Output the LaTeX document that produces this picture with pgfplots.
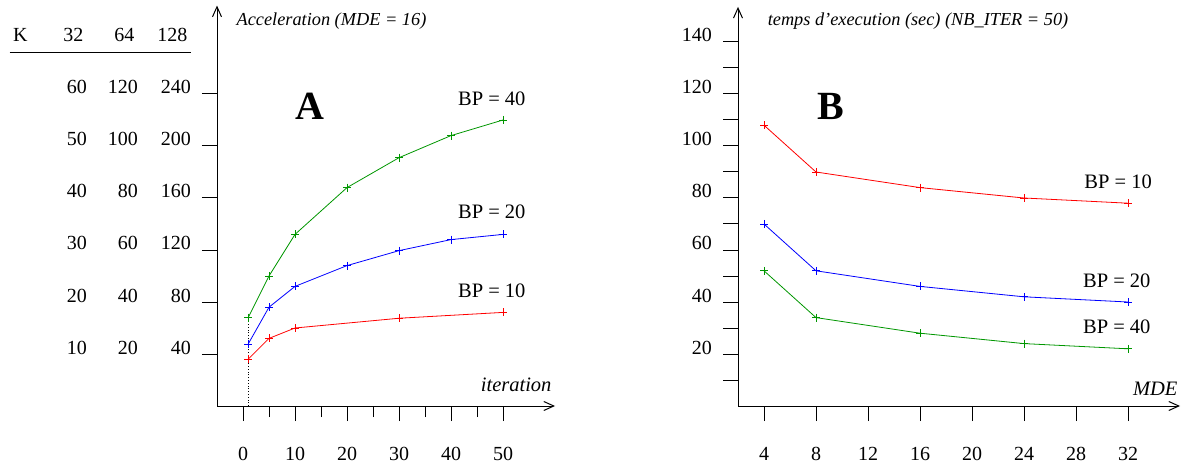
\documentclass[border=0pt]{standalone}
\usepackage{fontspec}
\setmainfont{Liberation Serif}
\usepackage{pgfplots}
\pgfplotsset{compat=1.18}
\usetikzlibrary{arrows.meta}
\definecolor{pgreen}{RGB}{0,150,0}
\newcommand\krow[3]{\makebox[52pt][r]{#1}\makebox[51pt][r]{#2}\makebox[53pt][r]{#3}}
\newcommand\lbl{\fontsize{20}{24}\selectfont}
\newcommand\ttl{\fontsize{18.3}{22}\selectfont\itshape}
\newcommand\axl{\fontsize{20.5}{24}\selectfont\itshape}
\newcommand\bp{\fontsize{20.5}{24}\selectfont}
\newcommand\bigletter{\fontsize{40}{44}\selectfont\bfseries}

\pgfplotsset{
  myaxis/.style={
    axis lines=left,
    axis line style={line width=1pt, -{Straight Barb[length=10pt,width=9pt]}},
    tick align=outside,
    major tick length=15pt,
    minor tick length=11pt,
    tick style={black, line width=1pt},
    tick label style={font=\lbl},
    /pgf/number format/assume math mode=true,
    xticklabel style={anchor=base, inner sep=0pt, yshift=-39pt},
    yticklabel style={anchor=base east, inner sep=0pt, xshift=-11pt},
    clip=false,
    every node/.append style={inner sep=0pt},
    every axis plot/.append style={line width=0.8pt, mark=+, mark size=4pt, mark options={solid}},
  }
}

\begin{document}
\begin{tikzpicture}
\useasboundingbox (0,0) rectangle (1189pt,464pt);

% ---------------- Panel A ----------------
\begin{axis}[myaxis,
  x=5.2pt, y=1.3pt,
  at={(217pt,58pt)}, anchor=south west,
  xmin=-5, xmax=60, ymin=0, ymax=308,
  xtick={0,10,...,50}, minor xtick={5,15,...,45},
  ytick={40,80,120,160,200,240},
  yticklabels={\krow{10}{20}{40},\krow{20}{40}{80},\krow{30}{60}{120},\krow{40}{80}{160},\krow{50}{100}{200},\krow{60}{120}{240}},
]
\addplot[black, dotted, line width=0.8pt, mark=none] coordinates {(1,0) (1,68)};
\addplot[pgreen] coordinates {(1,68) (5,100) (10,132) (20,168) (30,191) (40,208) (50,220)};
\addplot[blue] coordinates {(1,47.7) (5,76) (10,92) (20,108) (30,119.5) (40,128) (50,132)};
\addplot[red] coordinates {(1,36) (5,52) (10,60) (30,67.5) (50,72)};

\node[font=\ttl, anchor=base west] at (axis cs:-1.9,293) {Acceleration (MDE = 16)};
\node[font=\bigletter, anchor=base] at (axis cs:12.9,220) {A};
\node[font=\bp, anchor=base east] at (axis cs:55,231.5) {BP = 40};
\node[font=\bp, anchor=base east] at (axis cs:55,144.6) {BP = 20};
\node[font=\bp, anchor=base east] at (axis cs:55,83.3) {BP = 10};
\node[font=\axl, anchor=base east] at (axis cs:60,10.8) {iteration};
\node[font=\lbl, anchor=base west] at (axis cs:-44.9,280.2) {K};
\node[font=\lbl, anchor=base east] at (axis cs:-10,280.2) {\krow{32}{64}{128}};
\draw[line width=1pt] (axis cs:-44.9,272.1) -- (axis cs:-10,272.1);
\end{axis}

% ---------------- Panel B ----------------
\begin{axis}[myaxis,
  x=13pt, y=2.6pt,
  at={(738pt,58pt)}, anchor=south west,
  xmin=2, xmax=36, ymin=0, ymax=153.5,
  xtick={4,8,...,32},
  ytick={20,40,...,140}, minor ytick={10,30,...,130},
  minor tick length=15pt,
]
\addplot[red] coordinates {(4,108) (8,90) (16,84) (24,80) (32,78)};
\addplot[blue] coordinates {(4,70) (8,52) (16,46) (24,42) (32,40)};
\addplot[pgreen] coordinates {(4,52) (8,34) (16,28) (24,24) (32,22)};

\node[font=\ttl, anchor=base west] at (axis cs:4.02,146.5) {temps d’execution (sec) (NB\_ITER = 50)};
\node[font=\bigletter, anchor=base] at (axis cs:9.13,110.3) {B};
\node[font=\bp, anchor=base east] at (axis cs:34.1,83.7) {BP = 10};
\node[font=\bp, anchor=base east] at (axis cs:34.0,45.6) {BP = 20};
\node[font=\bp, anchor=base east] at (axis cs:34.0,27.7) {BP = 40};
\node[font=\axl, anchor=base east] at (axis cs:36.08,3.97) {MDE};
\end{axis}
\end{tikzpicture}
\end{document}
